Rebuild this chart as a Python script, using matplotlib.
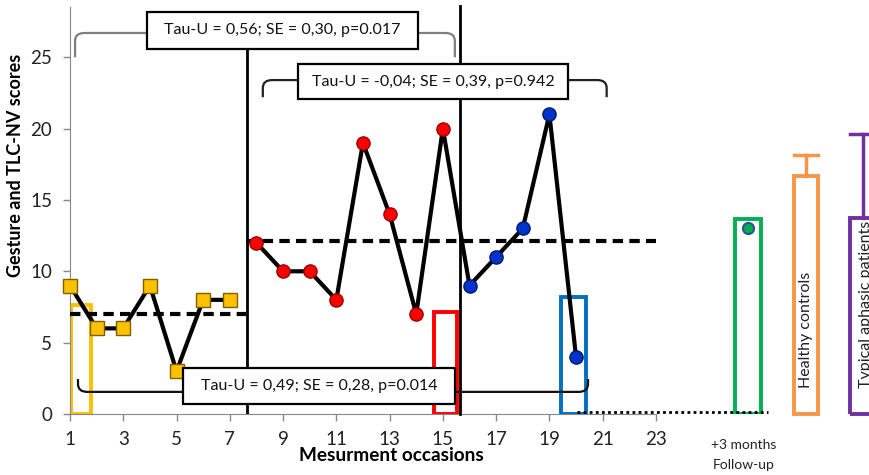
import matplotlib
matplotlib.use("Agg")
import matplotlib.pyplot as plt
from matplotlib.patches import Rectangle
from matplotlib.path import Path
from matplotlib.patches import PathPatch

plt.rcParams['font.family'] = ['Lato', 'DejaVu Sans']

# ---- data ----
base_x = [1, 2, 3, 4, 5, 6, 7]
base_y = [9, 6, 6, 9, 3, 8, 8]
treat_x = [8, 9, 10, 11, 12, 13, 14, 15]
treat_y = [12, 10, 10, 8, 19, 14, 7, 20]
post_x = [16, 17, 18, 19, 20]
post_y = [9, 11, 13, 21, 4]
base_mean = 7
treat_mean = 12.15
followup_x = 26.45
followup_y = 13
xticks = list(range(1, 24, 2))
yticks = [0, 5, 10, 15, 20, 25]
tau_texts = ["Tau-U = 0,56; SE = 0,30, p=0.017",
             "Tau-U = -0,04; SE = 0,39, p=0.942",
             "Tau-U = 0,49; SE = 0,28, p=0.014"]
# small reference boxes: (x0, x1, top, color)
ref_boxes = [(1.04, 1.79, 7.65, '#FFC000'),
             (14.68, 15.52, 7.15, '#FF0000'),
             (19.42, 20.36, 8.2, '#0070C0'),
             (25.96, 26.96, 13.65, '#00B050')]
hc_box = (28.2, 29.1, 16.7, 18.15, '#F79646')
ap_box = (30.3, 31.25, 13.7, 19.6, '#7030A0')

fig = plt.figure(figsize=(8.69, 4.75), dpi=100)
ax = fig.add_axes([70/869, 61/475, 799/869, (414-7.3)/475])
ax.set_xlim(1, 31)
ax.set_ylim(0, 28.5)

gray = '#888888'
for s in ['top', 'right']:
    ax.spines[s].set_visible(False)
ax.spines['left'].set_color(gray)
ax.spines['bottom'].set_color(gray)
ax.spines['bottom'].set_bounds(1, 23)
ax.set_xticks(xticks)
ax.set_yticks(yticks)
ax.tick_params(axis='both', colors=gray, length=5, width=1, labelsize=13.5,
               labelcolor='#222222')
ax.tick_params(axis='x', pad=7)
ax.tick_params(axis='y', pad=8)
ax.set_ylabel('Gesture and TLC-NV scores', fontsize=13, fontweight='bold')
ax.yaxis.set_label_coords(-0.058, 0.612)
ax.set_xlabel('Mesurment occasions', fontsize=13.7, fontweight='bold')
ax.xaxis.set_label_coords(0.402, -0.082)

# phase lines
ax.plot([7.64, 7.64], [0, 25.6], color='black', lw=2, zorder=3)
ax.plot([15.63, 15.63], [0, 28.6], color='black', lw=2, zorder=3, clip_on=False)

# reference boxes
for x0, x1, top, c in ref_boxes:
    ax.add_patch(Rectangle((x0, 0), x1 - x0, top, fill=False, ec=c, lw=2.8, zorder=2))
for (x0, x1, top, err, c) in [hc_box, ap_box]:
    ax.add_patch(Rectangle((x0, 0), x1 - x0, top, fill=False, ec=c, lw=2.8, zorder=2,
                           clip_on=False))
    xm = (x0 + x1) / 2
    ax.plot([xm, xm], [top, err], color=c, lw=2.5, clip_on=False)
    ax.plot([x0, x1], [err, err], color=c, lw=2.5, clip_on=False)

# dotted follow-up line
ax.plot([20.05, 27.2], [0.12, 0.12], color='black', lw=2, ls=(0, (1, 1.2)), zorder=4,
        clip_on=False)

# mean lines
ax.plot([1, 7.6], [base_mean, base_mean], color='black', lw=3, ls=(0, (2.5, 1.5)), zorder=4)
ax.plot([7.6, 23], [treat_mean, treat_mean], color='black', lw=3, ls=(0, (2.5, 1.5)), zorder=4)

# data series
ax.plot(base_x, base_y, color='black', lw=3, zorder=5)
ax.plot(treat_x + post_x, treat_y + post_y, color='black', lw=3, zorder=5)
ax.plot(base_x, base_y, ls='none', marker='s', ms=10.5, mfc='#FFC000', mec='#7F6000',
        mew=1, zorder=6, clip_on=False)
ax.plot(treat_x, treat_y, ls='none', marker='o', ms=9.5, mfc='#FF0000', mec='#990000',
        mew=1, zorder=6)
ax.plot(post_x, post_y, ls='none', marker='o', ms=9.5, mfc='#0033CC', mec='#001a66',
        mew=1, zorder=6)
ax.plot([followup_x], [followup_y], ls='none', marker='o', ms=8, mfc='#00B050',
        mec='#2F4F8F', mew=1.5, zorder=6)


def bracket(x0, x1, yh, yend, color, r=0.35):
    """horizontal bracket with rounded ends from yh going to yend"""
    sgn = 1 if yend > yh else -1
    ry = 0.55 * sgn
    verts = [(x0, yend), (x0, yh + ry), (x0, yh), (x0 + r, yh),
             (x1 - r, yh), (x1, yh), (x1, yh + ry), (x1, yend)]
    codes = [Path.MOVETO, Path.LINETO, Path.CURVE3, Path.CURVE3,
             Path.LINETO, Path.CURVE3, Path.CURVE3, Path.LINETO]
    ax.add_patch(PathPatch(Path(verts, codes), fill=False, ec=color, lw=1.6, zorder=7,
                           clip_on=False))


bracket(1.19, 15.45, 26.7, 25.0, '#7F7F7F')
bracket(8.24, 21.15, 23.4, 22.2, '#222222')
bracket(1.3, 20.45, 1.55, 2.45, '#111111')

# tau text boxes
for (x0, x1, y0, y1), t in zip([(3.89, 14.06, 25.6, 28.2), (9.56, 19.69, 22.1, 24.5),
                                 (5.24, 15.45, 0.72, 3.22)], tau_texts):
    ax.add_patch(Rectangle((x0, y0), x1 - x0, y1 - y0, fc='white', ec='black', lw=1.6,
                           zorder=8, clip_on=False))
    ax.text((x0 + x1) / 2, (y0 + y1) / 2, t, ha='center', va='center', fontsize=11.5,
            zorder=9, color='#111111')

# labels of right-hand bars
ax.text(28.62, 1.85, 'Healthy controls', rotation=90, ha='center', va='bottom',
        fontsize=11.5, color='#222222', zorder=9)
ax.text(30.9, 1.85, 'Typical aphasic patients', rotation=90, ha='center', va='bottom',
        fontsize=11.5, color='#222222', zorder=9, clip_on=False)
ax.text(26.3, -2.2, '+3 months', ha='center', va='center', fontsize=10, color='#222222')
ax.text(26.3, -3.6, 'Follow-up', ha='center', va='center', fontsize=10, color='#222222')

fig.savefig('out.png', dpi=100)
